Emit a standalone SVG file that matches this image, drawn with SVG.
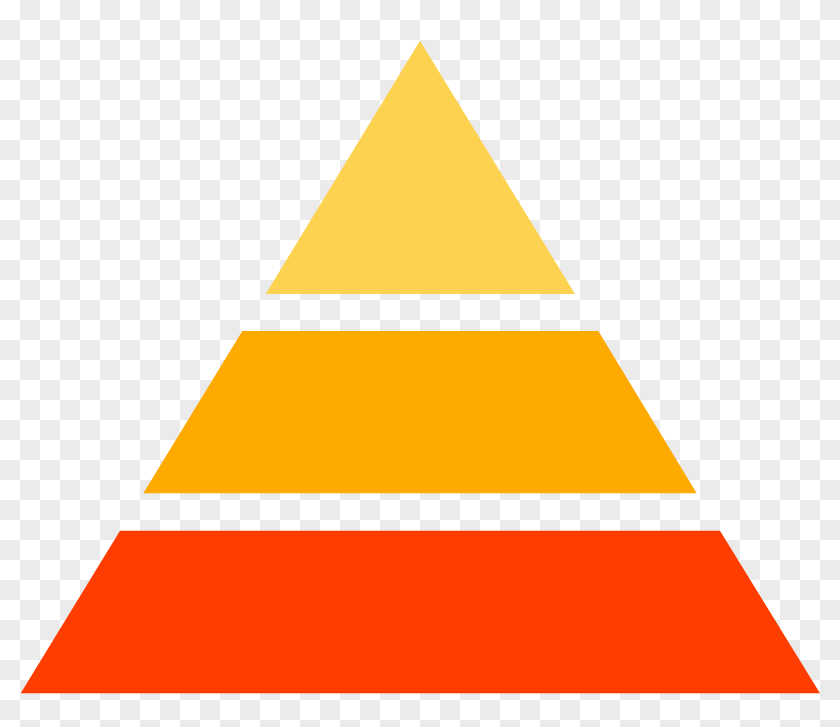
<svg xmlns="http://www.w3.org/2000/svg" width="840" height="727" viewBox="0 0 840 727">
  <defs>
    <pattern id="checker" width="40" height="40" patternUnits="userSpaceOnUse">
      <rect width="40" height="40" fill="#ffffff"/>
      <rect x="20" y="0" width="20" height="20" fill="#ebebeb"/>
      <rect x="0" y="20" width="20" height="20" fill="#ebebeb"/>
    </pattern>
    <style>
      .top { fill: #fdd250; }
      .mid { fill: #ffaa00; }
      .bot { fill: #ff3d00; }
    </style>
  </defs>
  <rect width="840" height="727" fill="url(#checker)"/>
  <g id="layer-top">
    <polygon class="top" points="420,40.7 575,294 265.7,294"/>
  </g>
  <g id="layer-middle">
    <polygon class="mid" points="242.3,331 598.3,331 696.7,493.3 143.3,493.3"/>
  </g>
  <g id="layer-bottom">
    <polygon class="bot" points="120,530.7 720,530.7 820,693.3 20.7,693.3"/>
  </g>
  <g id="connectors"/>
</svg>
